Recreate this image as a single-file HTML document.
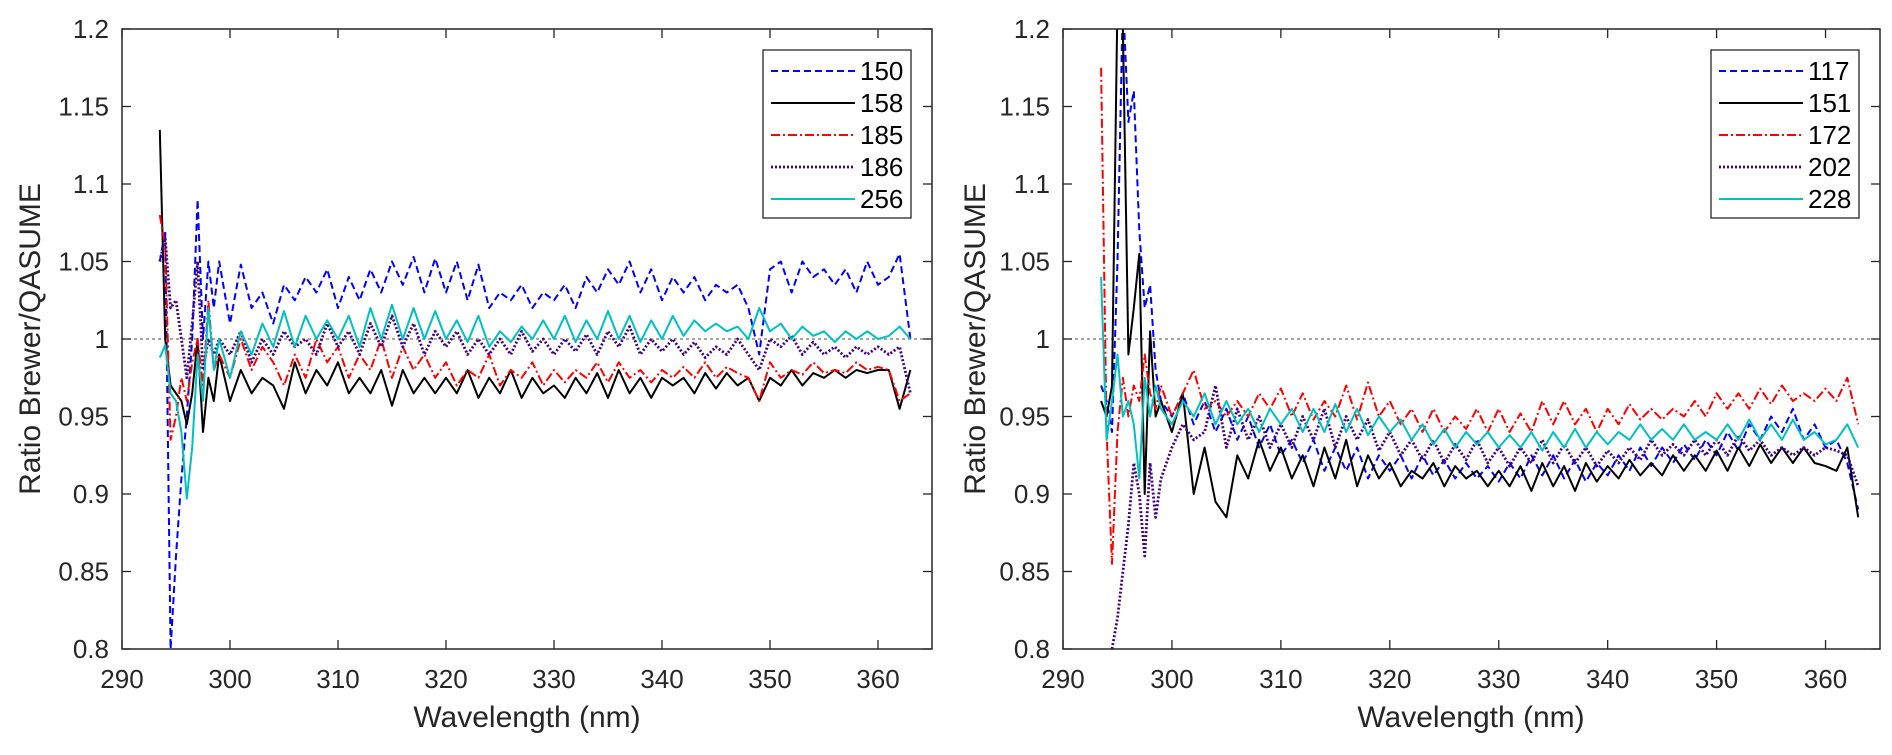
<!DOCTYPE html>
<html><head><meta charset="utf-8"><style>
html,body{margin:0;padding:0;background:#fff;}
svg{display:block;font-family:"Liberation Sans",Arial,sans-serif;}
</style></head><body>
<svg id="chart" width="1892" height="755" viewBox="0 0 1892 755" xmlns="http://www.w3.org/2000/svg"></svg>
<script>
const wavelengths = [293.5,294,294.5,295,295.5,296,296.5,297,297.5,298,298.5,299,
300,301,302,303,304,305,306,307,308,309,310,311,312,313,314,315,316,317,318,319,
320,321,322,323,324,325,326,327,328,329,330,331,332,333,334,335,336,337,338,339,
340,341,342,343,344,345,346,347,348,349,350,351,352,353,354,355,356,357,358,359,
360,361,362,363];
const xTicks = [290,300,310,320,330,340,350,360];
const yTicks = [0.8,0.85,0.9,0.95,1,1.05,1.1,1.15,1.2];
const yTickLabels = ["0.8","0.85","0.9","0.95","1","1.05","1.1","1.15","1.2"];

const leftNames = ["150","158","185","186","256"];
const left150 = [1.05,1.07,0.80,0.86,0.91,0.95,1.0,1.09,1.0,1.05,1.02,1.05,
1.01,1.048,1.02,1.03,1.01,1.035,1.025,1.04,1.03,1.045,
1.02,1.04,1.025,1.045,1.03,1.05,1.035,1.053,1.03,1.052,
1.03,1.05,1.025,1.048,1.02,1.03,1.025,1.035,1.02,1.03,
1.025,1.035,1.02,1.04,1.03,1.045,1.035,1.05,1.03,1.045,
1.025,1.04,1.03,1.04,1.025,1.035,1.03,1.035,1.02,0.99,
1.045,1.05,1.03,1.05,1.04,1.045,1.035,1.045,1.03,1.05,
1.035,1.04,1.055,1.0];
const left158 = [1.135,1.0,0.97,0.965,0.96,0.945,0.965,1.0,0.94,0.975,0.96,0.99,
0.96,0.98,0.965,0.975,0.97,0.955,0.985,0.965,0.98,0.97,
0.985,0.965,0.975,0.965,0.98,0.957,0.98,0.965,0.975,0.965,
0.975,0.965,0.98,0.962,0.975,0.965,0.98,0.962,0.975,0.965,
0.97,0.962,0.975,0.965,0.978,0.962,0.98,0.965,0.975,0.962,
0.975,0.97,0.975,0.965,0.978,0.968,0.978,0.97,0.975,0.96,
0.975,0.97,0.98,0.97,0.978,0.975,0.98,0.975,0.98,0.978,
0.98,0.98,0.955,0.98];
const left185 = [1.08,1.06,0.935,0.95,0.975,0.96,0.985,1.0,0.97,1.025,0.98,0.99,
0.975,1.0,0.98,0.995,0.985,0.97,0.99,0.975,1.0,0.985,
0.995,0.975,0.99,0.98,1.0,0.975,0.995,0.98,0.99,0.975,
0.985,0.97,0.98,0.975,0.99,0.97,0.98,0.975,0.985,0.97,
0.98,0.972,0.98,0.975,0.985,0.972,0.985,0.975,0.98,0.972,
0.98,0.975,0.982,0.975,0.985,0.975,0.982,0.978,0.975,0.96,
0.985,0.975,0.98,0.977,0.985,0.978,0.98,0.978,0.985,0.98,
0.982,0.98,0.96,0.965];
const left186 = [1.05,1.065,1.02,1.025,1.0,0.975,1.01,1.05,0.98,1.0,0.99,1.0,
0.99,1.005,0.985,1.0,0.99,1.005,0.995,1.0,0.99,1.01,
0.995,1.005,0.99,1.01,0.995,1.015,0.995,1.01,0.99,1.005,
0.995,1.005,0.99,1.0,0.99,1.0,0.99,1.005,0.992,1.0,
0.99,1.0,0.992,1.003,0.99,1.005,0.995,1.008,0.99,1.0,
0.992,1.0,0.99,0.998,0.988,0.995,0.99,1.0,0.99,0.98,
1.0,0.995,1.002,0.99,0.998,0.99,0.995,0.988,0.995,0.99,
0.995,0.99,0.995,0.965];
const left256 = [0.988,0.996,0.965,0.96,0.94,0.897,0.93,0.99,0.96,1.02,0.98,1.0,
0.975,1.005,0.99,1.01,0.995,1.018,0.995,1.015,1.0,1.012,
1.0,1.015,0.995,1.02,1.0,1.022,1.0,1.02,1.0,1.018,
1.0,1.012,0.998,1.015,0.995,1.005,0.998,1.008,1.0,1.012,
1.0,1.015,0.998,1.012,1.0,1.018,1.0,1.015,0.998,1.012,
1.0,1.015,1.002,1.012,1.005,1.01,1.005,1.008,1.0,1.02,
1.005,1.01,1.0,1.008,1.002,1.005,0.998,1.005,1.0,1.005,
1.0,1.002,1.008,1.0];

const rightNames = ["117","151","172","202","228"];
const right117 = [0.97,0.96,0.94,1.05,1.22,1.14,1.16,1.07,1.02,1.035,0.98,0.96,
0.95,0.965,0.945,0.96,0.94,0.955,0.935,0.95,0.93,0.945,
0.925,0.935,0.92,0.935,0.915,0.93,0.915,0.93,0.91,0.925,
0.915,0.925,0.91,0.925,0.912,0.922,0.91,0.92,0.91,0.918,
0.908,0.92,0.91,0.925,0.912,0.925,0.91,0.922,0.908,0.92,
0.912,0.925,0.915,0.93,0.918,0.93,0.92,0.932,0.922,0.935,
0.925,0.94,0.928,0.945,0.935,0.95,0.94,0.955,0.935,0.945,
0.93,0.935,0.92,0.89];
const right151 = [0.96,0.95,0.97,1.22,1.2,0.99,1.02,1.055,0.9,1.005,0.95,0.96,
0.94,0.965,0.9,0.93,0.895,0.885,0.925,0.91,0.935,0.915,
0.93,0.91,0.925,0.905,0.93,0.91,0.935,0.905,0.925,0.91,
0.92,0.905,0.915,0.91,0.92,0.905,0.918,0.91,0.915,0.905,
0.915,0.905,0.918,0.902,0.92,0.905,0.918,0.902,0.92,0.908,
0.918,0.91,0.922,0.912,0.92,0.912,0.925,0.915,0.925,0.915,
0.928,0.915,0.93,0.918,0.932,0.92,0.93,0.92,0.93,0.92,
0.918,0.915,0.93,0.885];
const right172 = [1.175,0.94,0.855,0.94,0.975,0.95,0.97,0.96,0.99,0.965,0.955,0.97,
0.95,0.965,0.98,0.955,0.96,0.95,0.96,0.95,0.965,0.955,
0.968,0.95,0.965,0.948,0.96,0.95,0.97,0.948,0.972,0.95,
0.96,0.945,0.955,0.94,0.955,0.94,0.95,0.942,0.955,0.94,
0.955,0.94,0.952,0.94,0.96,0.945,0.96,0.945,0.955,0.94,
0.955,0.945,0.958,0.948,0.955,0.948,0.955,0.95,0.96,0.95,
0.965,0.955,0.965,0.955,0.968,0.958,0.97,0.96,0.965,0.96,
0.968,0.96,0.975,0.945];
const right202 = [null,null,0.8,0.82,0.85,0.88,0.92,0.9,0.86,0.92,0.885,0.91,
0.93,0.945,0.935,0.94,0.97,0.93,0.955,0.935,0.95,0.93,
0.945,0.93,0.95,0.935,0.955,0.93,0.95,0.935,0.948,0.928,
0.94,0.925,0.935,0.922,0.935,0.92,0.932,0.922,0.935,0.92,
0.93,0.918,0.93,0.92,0.935,0.92,0.932,0.92,0.93,0.918,
0.928,0.92,0.93,0.922,0.935,0.925,0.932,0.925,0.935,0.925,
0.935,0.925,0.938,0.928,0.935,0.925,0.93,0.925,0.93,0.925,
0.93,0.928,0.925,0.905];
const right228 = [1.04,0.935,0.96,0.99,0.95,0.96,0.945,0.91,0.975,0.95,0.97,0.955,
0.945,0.96,0.95,0.965,0.945,0.96,0.945,0.955,0.94,0.955,
0.945,0.955,0.94,0.955,0.94,0.958,0.94,0.955,0.938,0.95,
0.94,0.948,0.935,0.945,0.932,0.942,0.93,0.94,0.932,0.94,
0.93,0.938,0.93,0.94,0.928,0.94,0.93,0.942,0.93,0.94,
0.932,0.94,0.935,0.945,0.935,0.942,0.935,0.945,0.935,0.94,
0.935,0.945,0.935,0.948,0.935,0.945,0.935,0.948,0.935,0.94,
0.932,0.935,0.945,0.93];

const NS = "http://www.w3.org/2000/svg";
const svg = document.getElementById("chart");
const styles = [
  {color:"#0000ff", dash:"7,4", w:2},
  {color:"#000000", dash:"", w:2},
  {color:"#ff0000", dash:"9,3,2,3", w:2},
  {color:"#400080", dash:"2,2", w:2.8},
  {color:"#00c0c0", dash:"", w:2}
];
function mk(tag, attrs, parent){
  const e = document.createElementNS(NS, tag);
  for (const k in attrs) e.setAttribute(k, attrs[k]);
  (parent||svg).appendChild(e);
  return e;
}
function panel(id, L, R, T, B, names, series, xlabelCx, ylabelCx){
  const xS = v => L + (v - 290) / 75 * (R - L);
  const yS = v => B - (v - 0.8) / 0.4 * (B - T);
  const g = mk("g", {});
  
  
  const cp = mk("clipPath", {id: id + "-clip"}, g);
  mk("rect", {x:L, y:T, width:R-L, height:B-T}, cp);
  const ref = mk("line", {x1:L, x2:R, y1:yS(1), y2:yS(1), stroke:"#707070", "stroke-width":1.3, "stroke-dasharray":"3,3"}, g);
  
  
  series.forEach((s, i) => {
    let d = "", pen = false;
    s.forEach((v, j) => {
      if (v === null) { pen = false; return; }
      d += (pen ? "L" : "M") + xS(wavelengths[j]).toFixed(1) + "," + yS(v).toFixed(1);
      pen = true;
    });
    const p = mk("path", {d:d, fill:"none", stroke:styles[i].color, "stroke-width":styles[i].w, "stroke-dasharray":styles[i].dash, "clip-path":"url(#" + id + "-clip)", "stroke-linejoin":"round"}, g);
    
    
  });
  const box = mk("rect", {x:L, y:T, width:R-L, height:B-T, fill:"none", stroke:"#262626", "stroke-width":1.5}, g);
  
  
  xTicks.forEach(t => {
    const x = xS(t);
    mk("line", {x1:x, x2:x, y1:B, y2:B-9, stroke:"#262626", "stroke-width":1.3}, g);
    mk("line", {x1:x, x2:x, y1:T, y2:T+9, stroke:"#262626", "stroke-width":1.3}, g);
    const tx = mk("text", {x:x, y:B+39, "text-anchor":"middle", "font-size":26, fill:"#262626"}, g);
    tx.textContent = t;
    
    
  });
  yTicks.forEach((t, i) => {
    const y = yS(t);
    mk("line", {x1:L, x2:L+9, y1:y, y2:y, stroke:"#262626", "stroke-width":1.3}, g);
    mk("line", {x1:R, x2:R-9, y1:y, y2:y, stroke:"#262626", "stroke-width":1.3}, g);
    const ty = mk("text", {x:L-13, y:y+9, "text-anchor":"end", "font-size":26, fill:"#262626"}, g);
    ty.textContent = yTickLabels[i];
    
    
  });
  const xl = mk("text", {x:xlabelCx, y:727, "text-anchor":"middle", "font-size":30, fill:"#262626"}, g);
  xl.textContent = "Wavelength (nm)";
  
  
  const yc = (T + B) / 2;
  const yl = mk("text", {x:ylabelCx, y:yc, "text-anchor":"middle", "font-size":30, fill:"#262626", transform:"rotate(-90 " + ylabelCx + " " + yc + ")"}, g);
  yl.textContent = "Ratio Brewer/QASUME";
  
  
  const lx = R - 169, lw = 148, ly = 50, lh = 168;
  const leg = mk("g", {}, g);
  
  
  mk("rect", {x:lx, y:ly, width:lw, height:lh, fill:"#fff", stroke:"#262626", "stroke-width":1.3}, leg);
  names.forEach((n, i) => {
    const ry = ly + 21 + i * 32;
    const le = mk("g", {}, leg);
    
    
    mk("line", {x1:lx+8, x2:lx+92, y1:ry, y2:ry, stroke:styles[i].color, "stroke-width":styles[i].w, "stroke-dasharray":styles[i].dash}, le);
    const t = mk("text", {x:lx+97, y:ry+9, "font-size":26, fill:"#000"}, le);
    t.textContent = n;
  });
}
panel("left", 122, 932, 29, 649, leftNames, [left150,left158,left185,left186,left256], 527, 40);
panel("right", 1063, 1880, 29, 649, rightNames, [right117,right151,right172,right202,right228], 1471, 985);
</script>
</body></html>
